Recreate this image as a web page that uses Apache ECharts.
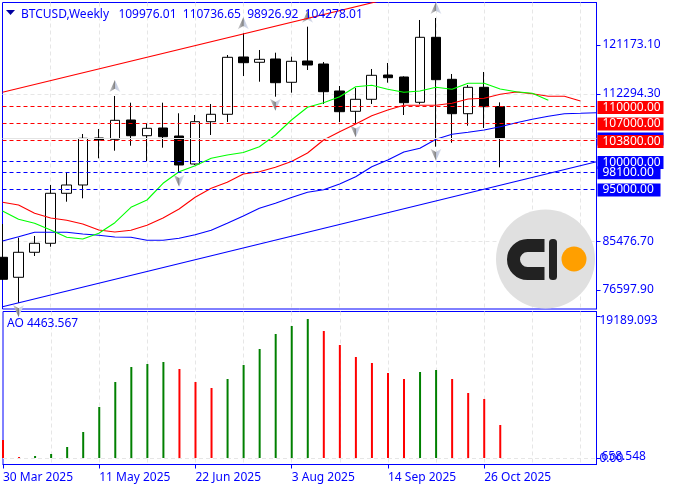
<!DOCTYPE html>
<html>
<head>
<meta charset="utf-8">
<style>
html, body { margin: 0; padding: 0; background: #fff; }
#chart { width: 674px; height: 488px; }
</style>
<script src="https://cdn.jsdelivr.net/npm/echarts@6/dist/echarts.min.js"></script>
</head>
<body>
<div id="chart"></div>
<script>
var weeks = ['30 Mar 2025', '6 Apr 2025', '13 Apr 2025', '20 Apr 2025', '27 Apr 2025', '4 May 2025', '11 May 2025',
    '18 May 2025', '25 May 2025', '1 Jun 2025', '8 Jun 2025', '15 Jun 2025', '22 Jun 2025', '29 Jun 2025', '6 Jul 2025',
    '13 Jul 2025', '20 Jul 2025', '27 Jul 2025', '3 Aug 2025', '10 Aug 2025', '17 Aug 2025', '24 Aug 2025', '31 Aug 2025',
    '7 Sep 2025', '14 Sep 2025', '21 Sep 2025', '28 Sep 2025', '5 Oct 2025', '12 Oct 2025', '19 Oct 2025', '26 Oct 2025',
    '2 Nov 2025', '9 Nov 2025', '16 Nov 2025', '23 Nov 2025', '30 Nov 2025', '7 Dec 2025', '14 Dec 2025'];

// open, close, low, high
var candles = [
    [82556, 78554, 78427, 88613], [78918, 83466, 74243, 86121], [83466, 85103, 82793, 86431], [85103, 94198, 84484, 95707],
    [94198, 95707, 92670, 97945], [95707, 104202, 93288, 104984], [104257, 103893, 100564, 105894], [104020, 107476, 101947, 111897],
    [107531, 104675, 102856, 110678], [104675, 106021, 100073, 106931], [106076, 104493, 102492, 110678], [104621, 99345, 97945, 108750],
    [99527, 107222, 99345, 108440], [107222, 108568, 104802, 110441], [108568, 118936, 107167, 119354], [118991, 117954, 115535, 123302],
    [118027, 118572, 114498, 120264], [118627, 114316, 111769, 119773], [114389, 118209, 112497, 119045], [118263, 117535, 116626, 124502],
    [117717, 112679, 110441, 118081], [112806, 109041, 107167, 113716], [109113, 111296, 106931, 113352], [111296, 115662, 110441, 116808],
    [115716, 115225, 114316, 117899], [115353, 110678, 108440, 115480], [110751, 122574, 110387, 125721], [122574, 114862, 102674, 126085],
    [114934, 108677, 103402, 115898], [108677, 113479, 106494, 113897], [113479, 109950, 106076, 116262], [109976.01, 104278.01, 98926.92, 110736.65]
];

var jaw = [85521, 86303, 87104, 87104, 87104, 86794, 86558, 86249, 86194, 85648, 85648, 86012, 86667, 87468, 88741, 90069, 91469, 92379, 93434,
    94380, 94852, 95889, 97217, 99036, 100255, 101710, 102383, 104020, 104930, 105294, 105712, 106312, 107040, 107658, 108204, 108677, 108750, 108859];
var teeth = [92561, 92069, 90560, 89705, 89286, 88613, 87522, 87158, 87468, 88377, 89705, 91342, 93470, 95107, 96199, 97708, 98127, 98927, 99983,
    101528, 103893, 105403, 106803, 108313, 109350, 110205, 110205, 110205, 110569, 111351, 111478, 112206, 112624, 112315, 111842, 111842, 110987];
var lips = [90978, 89468, 88741, 87522, 86194, 85885, 86922, 88850, 91651, 92979, 96017, 98127, 99218, 100564, 101164, 101619, 102674, 104802, 107531,
    109841, 110678, 111769, 113588, 113843, 113115, 112570, 112806, 113479, 113115, 114207, 114207, 113170, 112679, 112388, 111114];

var ao = [2434, 135, 270, 541, 1487, 3515, 6896, 10276, 12304, 12710, 12980, 12034, 10276, 9465, 10682, 12575, 14738, 16766, 17848, 18794,
    17172, 15279, 13656, 12845, 11493, 10682, 11628, 11898, 10682, 8789, 7977, 4463.567];

// fractals: [week index, price]
var fractalUp = [[7, 111897], [15, 123302], [19, 124502], [27, 126085]];
var fractalDown = [[1, 74243], [11, 97945], [17, 111769], [22, 106931], [27, 102674]];

// channel ends, first and last week
var upperChannel = [112569, 138745];
var lowerChannel = [73569, 99945];

var resistanceLevels = [110000, 107000, 103800];
var supportLevels = [100000, 98100, 95000];
var lastPrice = 104278.01;

var priceTicks = [76597.90, 85476.70, 112294.30, 121173.10];
var aoTicks = [0, 19189.093];
var aoMinLabel = 658.548;

var BLUE = '#0000ff';
var FONT = '"Noto Sans", sans-serif';

function channel(ends) {
    var arr = weeks.map(function () { return null; });
    arr[0] = ends[0];
    arr[weeks.length - 1] = ends[1];
    return arr;
}

function levelLine(value, color, boxColor, width, text) {
    return {
        yAxis: value,
        lineStyle: { color: color, type: [4, 3], width: 1 },
        label: {
            show: true,
            position: 'end',
            distance: 1,
            offset: [0, 1],
            formatter: text === undefined ? value.toFixed(2) : text,
            color: '#fff',
            fontFamily: FONT,
            fontSize: 12,
            lineHeight: 13,
            backgroundColor: boxColor,
            width: width,
            height: 13,
            padding: [0, 0, 0, 5]
        }
    };
}

var arrowUp = 'path://M5,0 L10,11 L5,8 L0,11 Z';
var arrowDown = 'path://M0,0 L5,3 L10,0 L5,11 Z';
var arrowFill = {
    type: 'linear', x: 0, y: 0, x2: 1, y2: 0,
    colorStops: [
        { offset: 0, color: '#d8d8dc' },
        { offset: 0.5, color: '#808080' },
        { offset: 0.55, color: '#c0c8dc' },
        { offset: 1, color: '#e0e4f0' }
    ]
};

function majorWeek(i) {
    return i % 6 === 0 && i < 36;
}

var chart = echarts.init(document.getElementById('chart'));

chart.setOption({
    animation: false,
    backgroundColor: '#fff',
    title: [
        { text: 'BTCUSD,Weekly   109976.01  110736.65  98926.92  104278.01', left: 21, top: 9, padding: 0,
            textStyle: { color: BLUE, fontFamily: FONT, fontSize: 12, fontWeight: 'normal' } },
        { text: 'AO 4463.567', left: 7, top: 318, padding: 0,
            textStyle: { color: BLUE, fontFamily: FONT, fontSize: 12, fontWeight: 'normal' } }
    ],
    grid: [
        { left: 2.5, top: 2.5, width: 594, height: 306.5, show: true, borderColor: BLUE, borderWidth: 1 },
        { left: 2.5, top: 311.5, width: 594, height: 153, show: true, borderColor: BLUE, borderWidth: 1 }
    ],
    xAxis: [
        {
            type: 'category', gridIndex: 0, data: weeks, boundaryGap: false,
            axisLine: { show: false }, axisTick: { show: false }, axisLabel: { show: false },
            splitLine: { show: true, showMinLine: false, interval: 2, lineStyle: { color: '#e6e6e6', type: [4, 3] } }
        },
        {
            type: 'category', gridIndex: 1, data: weeks, boundaryGap: false,
            axisLine: { show: true, onZero: false, lineStyle: { color: BLUE } },
            axisTick: { show: true, length: 4, interval: function (i) { return majorWeek(i); }, lineStyle: { color: BLUE } },
            axisLabel: {
                show: true, interval: function (i) { return majorWeek(i); },
                align: 'left', margin: 7, color: BLUE, fontFamily: FONT, fontSize: 12
            },
            splitLine: { show: true, showMinLine: false, interval: 2, lineStyle: { color: '#e6e6e6', type: [4, 3] } }
        }
    ],
    yAxis: [
        {
            type: 'value', gridIndex: 0, position: 'right', min: 73151, max: 128904, scale: true,
            axisLine: { show: true, lineStyle: { color: BLUE } },
            axisTick: { show: true, length: 4, customValues: priceTicks, lineStyle: { color: BLUE } },
            axisLabel: {
                customValues: priceTicks, margin: 6, color: BLUE, fontFamily: FONT, fontSize: 12,
                formatter: function (v) { return v.toFixed(2); }
            },
            splitLine: { show: true, showMinLine: false, showMaxLine: false, lineStyle: { color: '#e6e6e6', type: [4, 3] } }
        },
        {
            type: 'value', gridIndex: 1, position: 'right', min: -879, max: 19807,
            axisLine: { show: true, lineStyle: { color: BLUE } },
            axisTick: { show: true, length: 4, customValues: aoTicks, lineStyle: { color: BLUE } },
            axisLabel: {
                customValues: aoTicks, margin: 3, color: BLUE, fontFamily: FONT, fontSize: 12,
                formatter: function (v) {
                    return v === 0 ? '{c|0.00}' : '{a|' + v.toFixed(3) + '}';
                },
                rich: {
                    a: { color: BLUE, fontFamily: FONT, fontSize: 12, padding: [9, 0, 0, 0] },
                    c: { color: BLUE, fontFamily: FONT, fontSize: 12, padding: [2, 0, 0, 0] }
                }
            },
            splitLine: { show: false }
        }
    ],
    series: [
        {
            type: 'line', name: 'upper channel', data: channel(upperChannel), connectNulls: true,
            symbol: 'none', lineStyle: { color: '#ff0000', width: 1.1 }
        },
        {
            type: 'line', name: 'lower channel', data: channel(lowerChannel), connectNulls: true,
            symbol: 'none', lineStyle: { color: BLUE, width: 1.1 }
        },
        {
            type: 'candlestick', name: 'BTCUSD', data: candles, barWidth: 10,
            itemStyle: { color: '#fff', color0: '#000', borderColor: '#000', borderColor0: '#000', borderWidth: 1 },
            markLine: {
                silent: true, symbol: 'none', animation: false,
                data: [
                    { yAxis: lastPrice, lineStyle: { color: '#e4e4e4', type: 'solid', width: 1 }, label: { show: false } },
                    // the last price tag sits under the 103800 tag, only its top edge shows
                    levelLine(lastPrice, 'rgba(0,0,0,0)', BLUE, 61, ' '),
                    levelLine(supportLevels[0], BLUE, BLUE, 61),
                    levelLine(supportLevels[1], BLUE, BLUE, 58),
                    levelLine(supportLevels[2], BLUE, BLUE, 58),
                    levelLine(resistanceLevels[0], '#ff0000', '#ff0000', 61),
                    levelLine(resistanceLevels[1], '#ff0000', '#ff0000', 61),
                    levelLine(resistanceLevels[2], '#ff0000', '#ff0000', 61)
                ]
            }
        },
        { type: 'line', name: 'jaw', data: jaw, symbol: 'none', lineStyle: { color: BLUE, width: 1.1 } },
        { type: 'line', name: 'teeth', data: teeth, symbol: 'none', lineStyle: { color: '#ff0000', width: 1.1 } },
        { type: 'line', name: 'lips', data: lips, symbol: 'none', lineStyle: { color: '#00ff00', width: 1.1 } },
        {
            type: 'scatter', name: 'fractal up', data: fractalUp, symbol: arrowUp, symbolSize: [11, 12],
            symbolOffset: [0, -10], itemStyle: { color: arrowFill, opacity: 1 }
        },
        {
            type: 'scatter', name: 'fractal down', data: fractalDown, symbol: arrowDown, symbolSize: [11, 12],
            symbolOffset: [0, 8], itemStyle: { color: arrowFill, opacity: 1 }
        },
        {
            type: 'bar', name: 'AO', xAxisIndex: 1, yAxisIndex: 1, data: ao, barWidth: 2,
            itemStyle: {
                color: function (p) {
                    return p.dataIndex > 0 && p.value >= ao[p.dataIndex - 1] ? '#008000' : '#ff0000';
                }
            },
            markLine: {
                silent: true, symbol: 'none', animation: false,
                data: [
                    { yAxis: 0, lineStyle: { color: '#e6e6e6', type: [4, 3], width: 1 }, label: { show: false } },
                    // this label overlaps 0.00 in the original, the axis would drop one of them
                    {
                        yAxis: aoMinLabel,
                        lineStyle: { color: 'rgba(0,0,0,0)', width: 1 },
                        label: {
                            show: true, position: 'end', distance: 5, offset: [0, 3],
                            formatter: aoMinLabel.toFixed(3),
                            color: BLUE, fontFamily: FONT, fontSize: 12
                        }
                    }
                ]
            }
        }
    ],
    graphic: [
        // menu triangle in front of the title
        { type: 'polygon', shape: { points: [[6, 10], [15, 10], [10.5, 15]] }, style: { fill: '#0000a0' } },
        // watermark
        { type: 'circle', z: 100, shape: { cx: 545.5, cy: 259, r: 49.5 }, style: { fill: '#e0e0e0' } },
        { type: 'arc', z: 101, shape: { cx: 527.5, cy: 259.5, r: 14, startAngle: Math.PI / 2, endAngle: Math.PI * 1.5, clockwise: true },
            style: { fill: 'none', stroke: '#222222', lineWidth: 13 } },
        { type: 'rect', z: 101, shape: { x: 527, y: 239, width: 17.5, height: 13 }, style: { fill: '#222222' } },
        { type: 'rect', z: 101, shape: { x: 527, y: 267, width: 17.5, height: 13 }, style: { fill: '#222222' } },
        { type: 'rect', z: 101, shape: { x: 549, y: 239, width: 8, height: 41, r: 3.5 }, style: { fill: '#222222' } },
        { type: 'circle', z: 101, shape: { cx: 574, cy: 259, r: 12.5 }, style: { fill: '#ff9f00' } }
    ]
});
</script>
</body>
</html>
